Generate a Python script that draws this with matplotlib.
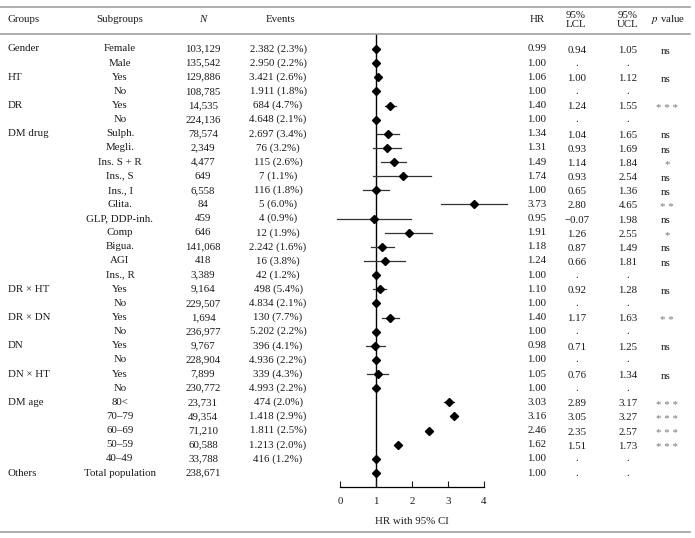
import matplotlib
matplotlib.use("Agg")
import matplotlib.pyplot as plt
import matplotlib.transforms as mtransforms
from matplotlib.lines import Line2D

plt.rcParams['font.family'] = ['Liberation Serif', 'DejaVu Serif']

groups = ["Gender", "", "HT", "", "DR", "", "DM drug", "", "", "", "", "", "", "", "", "", "",
          "DR × HT", "", "DR × DN", "", "DN", "", "DN × HT", "", "DM age", "", "", "", "", "Others"]
subgroups = ["Female", "Male", "Yes", "No", "Yes", "No", "Sulph.", "Megli.", "Ins. S + R", "Ins., S",
             "Ins., I", "Glita.", "GLP, DDP-inh.", "Comp", "Bigua.", "AGI", "Ins., R", "Yes", "No",
             "Yes", "No", "Yes", "No", "Yes", "No", "80<", "70–79", "60–69", "50–59", "40–49",
             "Total population"]
n_vals = ["103,129", "135,542", "129,886", "108,785", "14,535", "224,136", "78,574", "2,349", "4,477",
          "649", "6,558", "84", "459", "646", "141,068", "418", "3,389", "9,164", "229,507", "1,694",
          "236,977", "9,767", "228,904", "7,899", "230,772", "23,731", "49,354", "71,210", "60,588",
          "33,788", "238,671"]
events = ["2.382 (2.3%)", "2.950 (2.2%)", "3.421 (2.6%)", "1.911 (1.8%)", "684 (4.7%)", "4.648 (2.1%)",
          "2.697 (3.4%)", "76 (3.2%)", "115 (2.6%)", "7 (1.1%)", "116 (1.8%)", "5 (6.0%)", "4 (0.9%)",
          "12 (1.9%)", "2.242 (1.6%)", "16 (3.8%)", "42 (1.2%)", "498 (5.4%)", "4.834 (2.1%)",
          "130 (7.7%)", "5.202 (2.2%)", "396 (4.1%)", "4.936 (2.2%)", "339 (4.3%)", "4.993 (2.2%)",
          "474 (2.0%)", "1.418 (2.9%)", "1.811 (2.5%)", "1.213 (2.0%)", "416 (1.2%)", ""]
hr = [0.99, 1.00, 1.06, 1.00, 1.40, 1.00, 1.34, 1.31, 1.49, 1.74, 1.00, 3.73, 0.95, 1.91, 1.18, 1.24,
      1.00, 1.10, 1.00, 1.40, 1.00, 0.98, 1.00, 1.05, 1.00, 3.03, 3.16, 2.46, 1.62, 1.00, 1.00]
lcl = [0.94, None, 1.00, None, 1.24, None, 1.04, 0.93, 1.14, 0.93, 0.65, 2.80, -0.07, 1.26, 0.87, 0.66,
       None, 0.92, None, 1.17, None, 0.71, None, 0.76, None, 2.89, 3.05, 2.35, 1.51, None, None]
ucl = [1.05, None, 1.12, None, 1.55, None, 1.65, 1.69, 1.84, 2.54, 1.36, 4.65, 1.98, 2.55, 1.49, 1.81,
       None, 1.28, None, 1.63, None, 1.25, None, 1.34, None, 3.17, 3.27, 2.57, 1.73, None, None]
pvals = ["ns", "", "ns", "", "***", "", "ns", "ns", "*", "ns", "ns", "**", "ns", "*", "ns", "ns", "",
         "ns", "", "**", "", "ns", "", "ns", "", "***", "***", "***", "***", "", ""]

W, H = 695, 538
fig = plt.figure(figsize=(W / 100, H / 100), dpi=100)
fs = 7.8
tc = '#1a1a1a'

# forest plot axes (pixel layout)
ax = fig.add_axes([340 / W, (H - 487) / H, 144 / W, (487 - 34) / H])
rows = list(range(len(hr)))
ax.set_xlim(0, 4)
ax.set_ylim(30.99, -1.06)
ax.axvline(1, color='black', lw=1.0, zorder=1)
for i in rows:
    if lcl[i] is not None:
        ax.plot([lcl[i], ucl[i]], [i, i], color='#333333', lw=0.9, clip_on=False, zorder=2)
ax.plot(hr, rows, 'D', color='black', markersize=4.3, clip_on=False, zorder=3)

for s in ['left', 'right', 'top']:
    ax.spines[s].set_visible(False)
ax.spines['bottom'].set_linewidth(0.9)
ax.set_yticks([])
ax.set_xticks([0, 1, 2, 3, 4])
ax.tick_params(axis='x', direction='in', length=4, width=0.8, labelsize=fs, pad=7, colors=tc)
ax.set_xlabel("HR with 95% CI", fontsize=fs, color=tc, labelpad=8)

# table text
tr = mtransforms.blended_transform_factory(fig.transFigure, ax.transData)
for i in rows:
    kw = dict(transform=tr, fontsize=fs, color=tc, va='center')
    if groups[i]:
        fig.text(8 / W, i, groups[i], ha='left', **kw)
    fig.text(120 / W, i, subgroups[i], ha='center', **kw)
    fig.text(203 / W, i, n_vals[i], ha='center', **kw)
    fig.text(278 / W, i, events[i], ha='center', **kw)
    fig.text(537 / W, i, "%.2f" % hr[i], ha='center', **kw)
    lo = "." if lcl[i] is None else ("%.2f" % lcl[i]).replace("-", "−")
    hi = "." if ucl[i] is None else "%.2f" % ucl[i]
    dy = 0.0 if lcl[i] is None else 0.1
    fig.text(577 / W, i + dy, lo, ha='center', **kw)
    fig.text(628 / W, i + dy, hi, ha='center', **kw)
    if pvals[i]:
        if pvals[i] == "ns":
            fig.text(666 / W, i + 0.15, "ns", ha='center', **kw)
        else:
            kw['color'] = '#777777'
            fig.text(667 / W, i + 0.2, " ".join(pvals[i]), ha='center', **kw)

# header
def hy(p):
    return 1 - p / H

fig.text(8 / W, hy(20), "Groups", ha='left', va='center', fontsize=fs, color=tc)
fig.text(120 / W, hy(20), "Subgroups", ha='center', va='center', fontsize=fs, color=tc)
fig.text(203 / W, hy(20), "N", ha='center', va='center', fontsize=fs, color=tc, style='italic')
fig.text(281 / W, hy(20), "Events", ha='center', va='center', fontsize=fs, color=tc)
fig.text(537 / W, hy(20), "HR", ha='center', va='center', fontsize=fs, color=tc)
fig.text(576 / W, hy(20), "95%\nLCL", ha='center', va='center', fontsize=fs, color=tc, linespacing=1.1)
fig.text(628 / W, hy(20), "95%\nUCL", ha='center', va='center', fontsize=fs, color=tc, linespacing=1.1)
fig.text(668 / W, hy(20), r"$p$ value", ha='center', va='center', fontsize=fs, color=tc,
         math_fontfamily='stix')

# horizontal rules
for p in [6.5, 34, 532]:
    fig.add_artist(Line2D([0, 690 / W], [hy(p), hy(p)], transform=fig.transFigure,
                          color='#a0a0a0', lw=1.2))

fig.savefig("out.png", dpi=100)
